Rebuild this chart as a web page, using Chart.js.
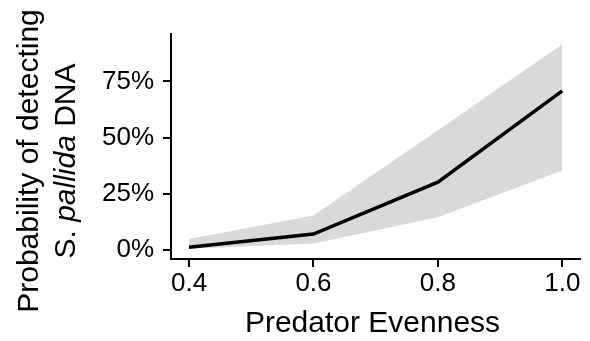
<!DOCTYPE html>
<html>
<head>
<meta charset="utf-8">
<script src="https://cdn.jsdelivr.net/npm/chart.js@4"></script>
<style>
  html, body { margin: 0; padding: 0; background: #fff; }
  #wrap { width: 590px; height: 341px; }
</style>
</head>
<body>
<div id="wrap"><canvas id="myChart" width="590" height="341"></canvas></div>
<script>
const evenness = [0.4, 0.6, 0.8, 1.0]
const probMean = [0.012, 0.071, 0.302, 0.708]
const probLower = [0.006, 0.029, 0.146, 0.354]
const probUpper = [0.049, 0.154, 0.533, 0.915]
const xTicks = [0.4, 0.6, 0.8, 1.0]
const yTicks = [0, 0.25, 0.5, 0.75]

const FONT = "'Liberation Sans', Arial, sans-serif"
const ctx = document.getElementById('myChart').getContext('2d');

const toPoints = (ys) => evenness.map((x, i) => ({ x: x, y: ys[i] }))

// draws both axis titles (y title has italic species name)
const titlesPlugin = {
    id: 'titles',
    afterDraw(chart) {
        const c = chart.ctx
        const area = chart.chartArea
        c.save()
        c.fillStyle = '#000'
        c.font = `30px ${FONT}`
        c.textAlign = 'center'
        c.textBaseline = 'alphabetic'
        c.fillText('Predator Evenness', (area.left + area.right) / 2 - 3, 332)

        c.translate(0, 161)
        c.rotate(-Math.PI / 2)
        c.fillText('Probability of detecting', 0, 38)

        const parts = [['S. ', 'normal'], ['pallida', 'italic'], [' DNA', 'normal']]
        let total = 0
        parts.forEach(p => {
            c.font = `${p[1]} 30px ${FONT}`
            total += c.measureText(p[0]).width
        })
        let x = -total / 2
        c.textAlign = 'left'
        parts.forEach(p => {
            c.font = `${p[1]} 30px ${FONT}`
            c.fillText(p[0], x, 75)
            x += c.measureText(p[0]).width
        })
        c.restore()
    }
}

const chart = new Chart(ctx, {
    type: 'line',
    data: {
        datasets: [{
            label: 'lower',
            data: toPoints(probLower),
            borderWidth: 0,
            pointRadius: 0,
            fill: false,
            order: 2
        }, {
            label: 'upper',
            data: toPoints(probUpper),
            borderWidth: 0,
            pointRadius: 0,
            backgroundColor: '#d9d9d9',
            fill: '-1',
            order: 1
        }, {
            label: 'mean',
            data: toPoints(probMean),
            borderColor: '#000',
            borderWidth: 3.5,
            pointRadius: 0,
            fill: false,
            order: 0
        }]
    },
    options: {
        responsive: false,
        animation: false,
        layout: { padding: { top: 34, right: 10, left: 0, bottom: 0 } },
        plugins: {
            legend: { display: false },
            tooltip: { enabled: false }
        },
        scales: {
            x: {
                type: 'linear',
                min: 0.371,
                max: 1.0285,
                afterBuildTicks: (scale) => { scale.ticks = xTicks.map(v => ({ value: v })) },
                afterFit: (scale) => { scale.height = 82 },
                ticks: {
                    color: '#000',
                    font: { family: FONT, size: 26 },
                    padding: 1,
                    maxRotation: 0,
                    callback: (v) => v.toFixed(1)
                },
                grid: { drawOnChartArea: false, tickLength: 8, color: '#000', lineWidth: 2 },
                border: { display: true, color: '#000', width: 2 }
            },
            y: {
                min: -0.04,
                max: 0.961,
                afterBuildTicks: (scale) => { scale.ticks = yTicks.map(v => ({ value: v })) },
                afterFit: (scale) => { scale.width = 171 },
                ticks: {
                    color: '#000',
                    font: { family: FONT, size: 26 },
                    padding: 9,
                    callback: (v) => Math.round(v * 100) + '%'
                },
                grid: { drawOnChartArea: false, tickLength: 8, color: '#000', lineWidth: 2 },
                border: { display: true, color: '#000', width: 2 }
            }
        }
    },
    plugins: [titlesPlugin]
});
</script>
</body>
</html>
